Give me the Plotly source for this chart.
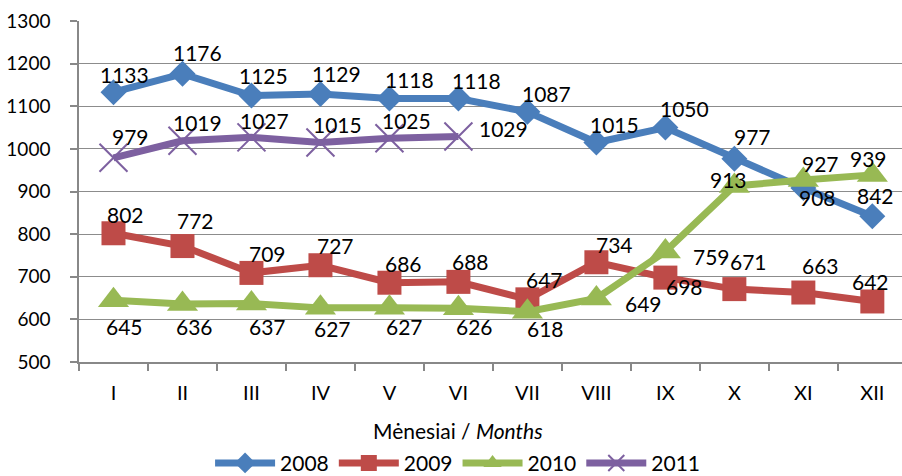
import plotly.graph_objects as go

months = ["I", "II", "III", "IV", "V", "VI", "VII", "VIII", "IX", "X", "XI", "XII"]
v2008 = [1133, 1176, 1125, 1129, 1118, 1118, 1087, 1015, 1050, 977, 908, 842]
v2009 = [802, 772, 709, 727, 686, 688, 647, 734, 698, 671, 663, 642]
v2010 = [645, 636, 637, 627, 627, 626, 618, 649, 759, 913, 927, 939]
v2011 = [979, 1019, 1027, 1015, 1025, 1029]
y_ticks = [500, 600, 700, 800, 900, 1000, 1100, 1200, 1300]

# label offsets in pixels (dx right, dy down)
off2008 = [(11, -18), (15, -21), (12, -20), (16, -20), (20, -19), (18, -18),
           (19, -18), (18, -18), (19, -19), (18, -22), (14, 9), (3, -21)]
off2009 = [(12, -19), (13, -26), (16, -19), (15, -20), (14, -19), (12, -20),
           (17, -20), (18, -18), (19, 9), (14, -28), (17, -27), (-2, -20)]
off2010 = [(11, 26), (12, 22), (16, 23), (12, 21), (15, 19), (16, 18),
           (18, 17), (47, 5), (46, 5), (-6, -6), (17, -16), (-4, -16)]
off2011 = [(17, -21), (15, -18), (13, -17), (17, -18), (17, -18), (45, -8)]

FONT = "Lato"
series = [
    ("2008", v2008, "#4A7EBB", dict(symbol="diamond", size=20), off2008),
    ("2009", v2009, "#BE4B48", dict(symbol="square", size=24), off2009),
    ("2010", v2010, "#98B954", dict(symbol="triangle-up", size=27), off2010),
    ("2011", v2011, "#7D60A0", dict(symbol="x-thin-open", size=28), off2011),
]

fig = go.Figure()
annotations = []
for name, vals, color, mk, offs in series:
    marker = dict(color=color, line=dict(color=color, width=2 if "x-thin" in mk["symbol"] else 0), **mk)
    fig.add_trace(go.Scatter(
        x=months[:len(vals)], y=vals, name=name, mode="lines+markers",
        line=dict(color=color, width=7), marker=marker, cliponaxis=False,
    ))
    for m, v, (dx, dy) in zip(months, vals, offs):
        annotations.append(dict(
            x=m, y=v, xref="x", yref="y", text=str(v), showarrow=False,
            xshift=dx, yshift=-dy, font=dict(family=FONT, size=21, color="black"),
        ))

annotations.append(dict(
    x=0.46, y=-0.2, xref="paper", yref="paper", yanchor="middle",
    text="Mėnesiai / <i>Months</i>", showarrow=False,
    font=dict(family=FONT, size=21, color="black"),
))

fig.update_layout(
    width=902, height=476,
    margin=dict(l=79, r=0, t=21, b=114, autoexpand=False),
    paper_bgcolor="white", plot_bgcolor="white",
    font=dict(family=FONT, size=20, color="black"),
    showlegend=True,
    legend=dict(orientation="h", x=0.46, xanchor="center", y=-0.297, yanchor="middle",
                font=dict(family=FONT, size=21, color="black"), itemwidth=60,
                tracegroupgap=0),
    annotations=annotations,
)
fig.update_xaxes(
    type="category", categoryorder="array", categoryarray=months, automargin=False,
    range=[-0.5, 11.43], showgrid=False, showline=True, linecolor="#888888", linewidth=1.5,
    ticks="outside", tickson="boundaries", ticklen=7, tickcolor="#888888", tickwidth=1.5,
    ticklabelstandoff=12, tickfont=dict(family=FONT, size=20),
)
fig.update_yaxes(
    range=[500, 1300], tickvals=y_ticks, showgrid=True, gridcolor="#8c8c8c", gridwidth=1.3,
    showline=True, linecolor="#888888", linewidth=1.5, zeroline=False, automargin=False,
    ticks="outside", ticklen=7, tickcolor="#888888", tickwidth=1.5,
    ticklabelstandoff=16, tickfont=dict(family=FONT, size=19),
)

# remove the default page margin so the figure sits at the window's top-left corner
fig.write_html("out.html", config={"displayModeBar": False},
               post_script="document.body.style.margin='0';")
